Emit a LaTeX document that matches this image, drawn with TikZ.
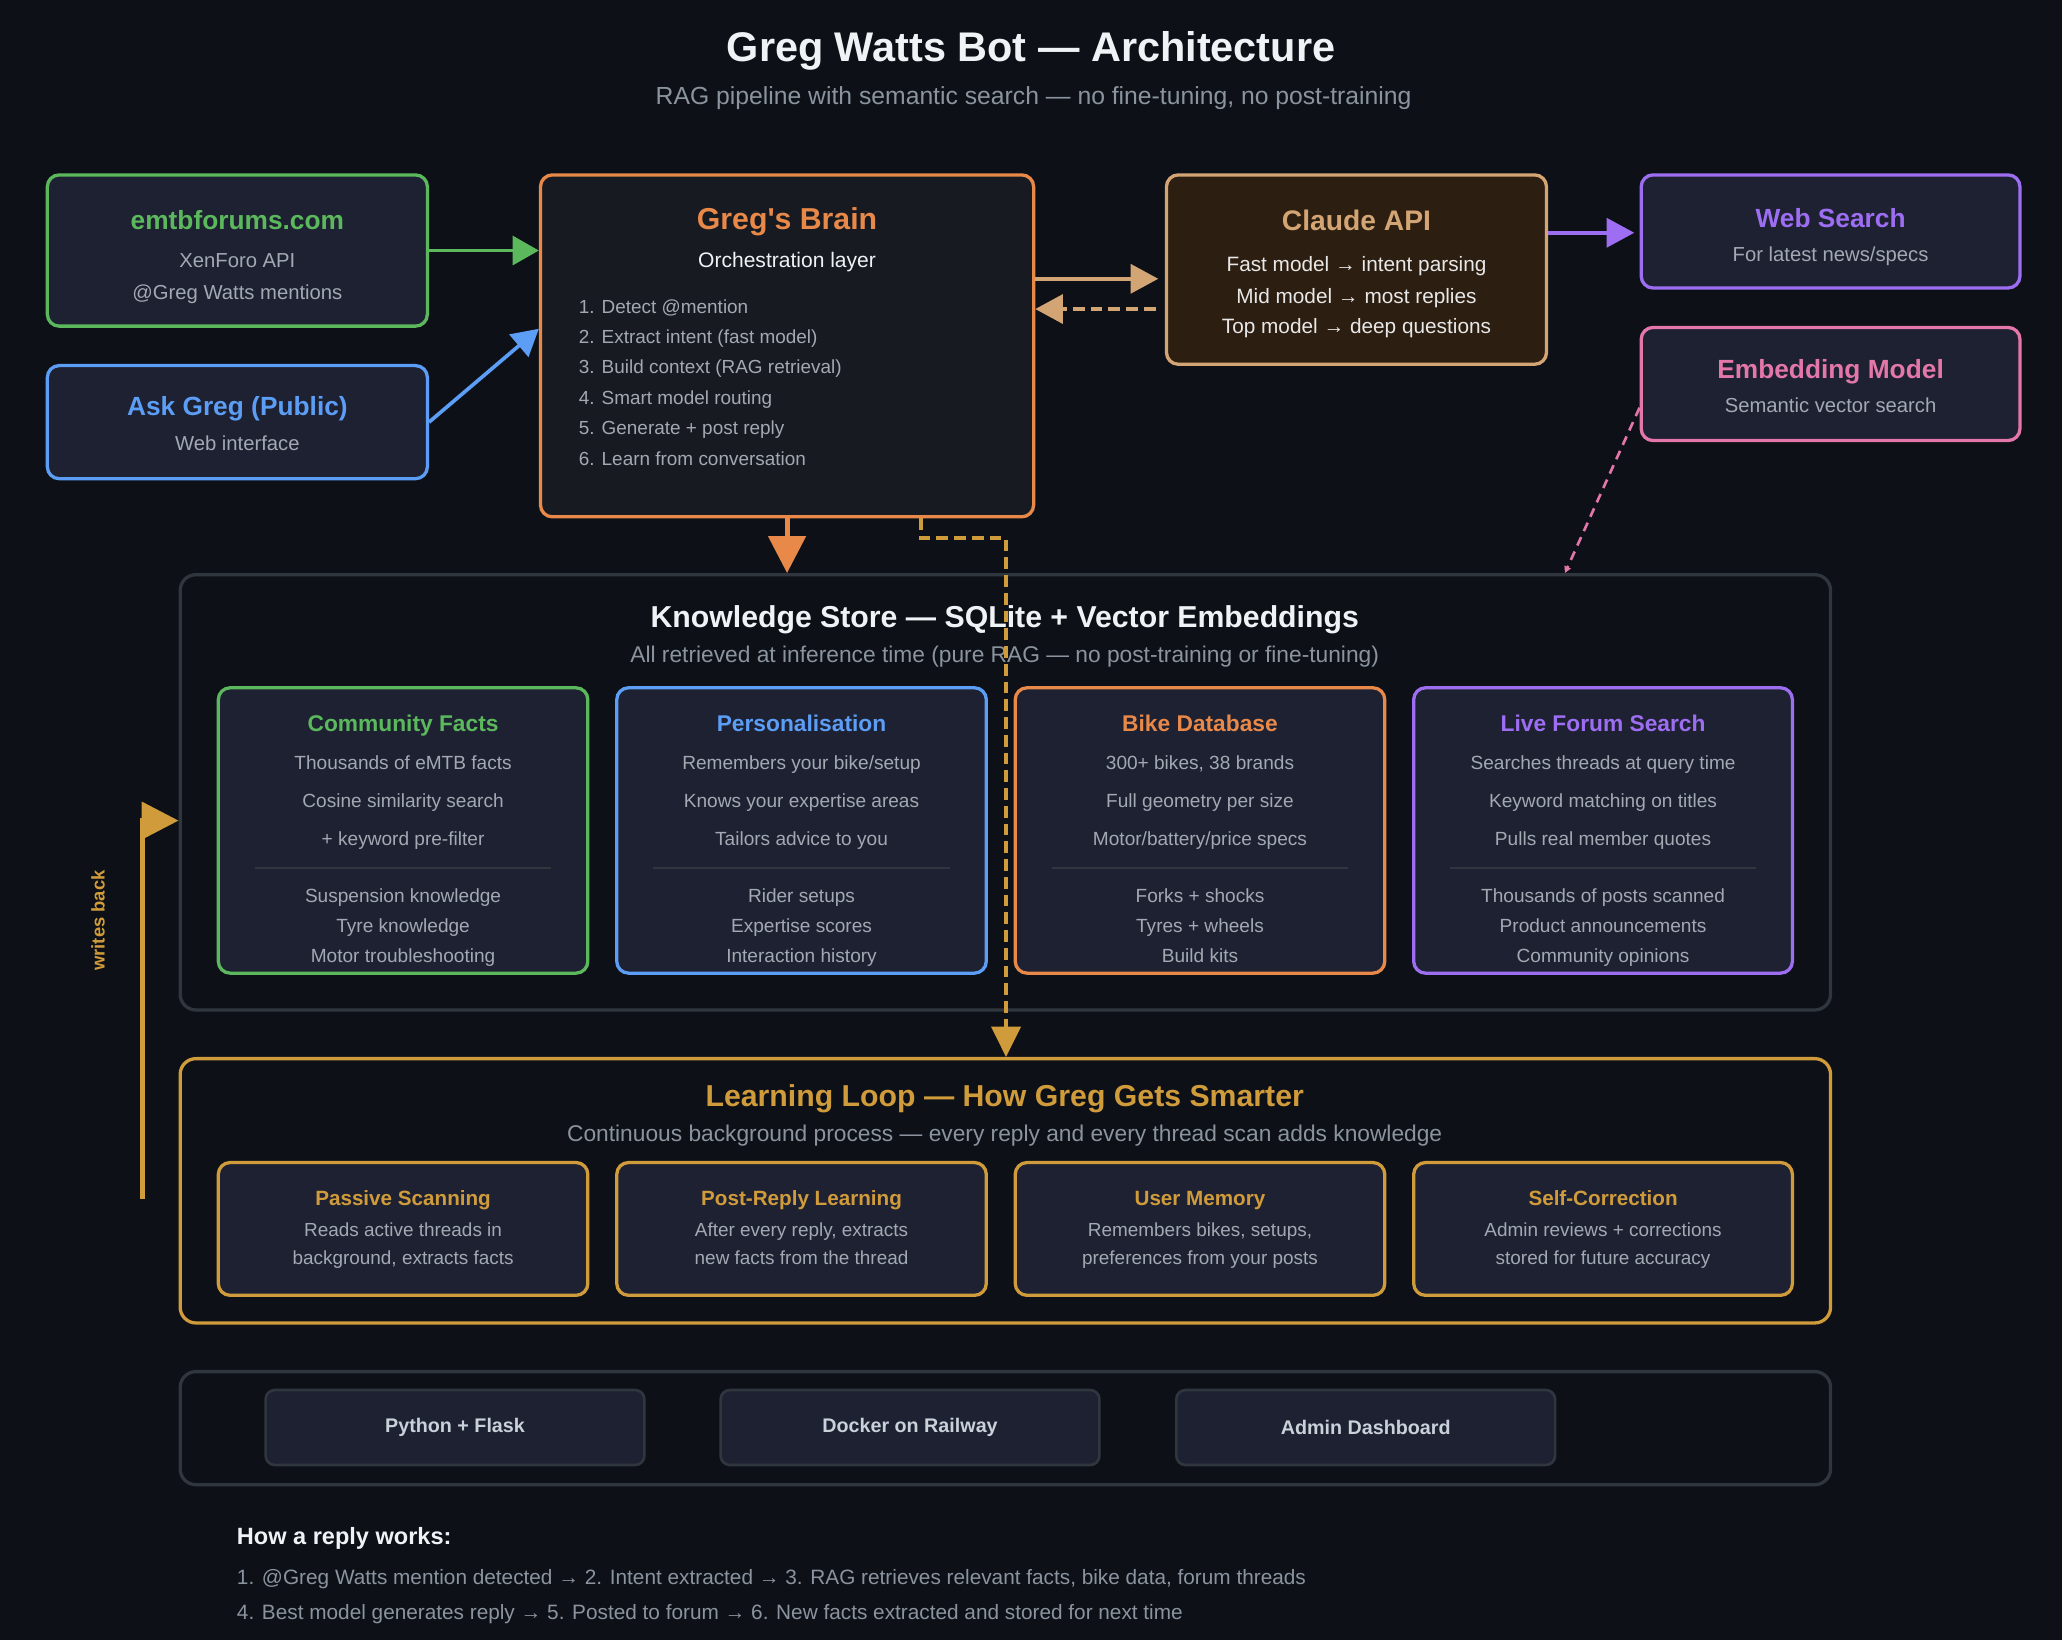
\documentclass[tikz,border=0pt]{standalone}
\usepackage{fontspec}
\setmainfont{Liberation Sans}[Ligatures=TeXOff]
\usetikzlibrary{arrows.meta,calc}
\definecolor{bg}{HTML}{0D1117}
\definecolor{boxfill}{HTML}{1D2132}
\definecolor{brainfill}{HTML}{171B21}
\definecolor{claudefill}{HTML}{2C1E10}
\definecolor{cgreen}{HTML}{5CB85C}
\definecolor{cblue}{HTML}{5C9DF5}
\definecolor{corange}{HTML}{E8894A}
\definecolor{ctan}{HTML}{D4A574}
\definecolor{cpurple}{HTML}{9D6EF2}
\definecolor{cpink}{HTML}{E477AA}
\definecolor{cgold}{HTML}{D09B3A}
\definecolor{cborder}{HTML}{30363D}
\definecolor{ctitle}{HTML}{F0F3F6}
\definecolor{csub}{HTML}{8B949E}
\definecolor{ctext}{HTML}{A3A9B3}
\definecolor{clight}{HTML}{E8E8E8}
\definecolor{ctech}{HTML}{C9D1D9}
\newcommand\gwf[1]{\fontsize{#1}{#1}\selectfont}
\begin{document}
\begin{tikzpicture}[x=1pt,y=-1pt,
  box/.style={draw, line width=2.5pt, rounded corners=9pt, fill=boxfill, inner sep=0pt},
  container/.style={draw=cborder, line width=2.5pt, rounded corners=12pt, fill=bg, inner sep=0pt},
  txt/.style={inner sep=0pt, anchor=mid, font=\gwf{#1}, yshift={-0.25*#1*1pt}},
  btxt/.style={inner sep=0pt, anchor=mid, font=\bfseries\gwf{#1}, yshift={-0.25*#1*1pt}},
  ltxt/.style={inner sep=0pt, anchor=mid west, font=\gwf{#1}, yshift={-0.25*#1*1pt}},
  btitle/.style={btxt=20},
  bsub/.style={txt=15.4, text=ctext},
  ctitle/.style={btxt=17.3},
  cline/.style={txt=14.5, text=ctext},
  ltitle/.style={btxt=15.7, text=cgold},
  lline/.style={txt=14.4, text=ctext},
  blist/.style={ltxt=14.4, text=ctext},
  sep/.style={draw=cborder, line width=1.5pt},
  tech/.style={draw=cborder, line width=2pt, rounded corners=7pt, fill=boxfill, inner sep=0pt, minimum width=288pt, minimum height=57pt, font=\bfseries\gwf{15}, text=ctech},
  conn/.style={line width=2.8pt},
  tipA/.style={-{Triangle[length=21pt,width=22pt]}},
  tipB/.style={-{Triangle[length=28pt,width=28pt]}},
  dsh/.style={dash pattern=on 9pt off 4.5pt}
]
\fill[bg] (0,0) rectangle (1568,1247);
\useasboundingbox (0,0) rectangle (1568,1247);

% title
\node[btxt=31.5, text=ctitle] (title) at (784,36) {Greg Watts Bot — Architecture};
\node[txt=18.8, text=csub] (subtitle) at (786,72) {RAG pipeline with semantic search — no fine-tuning, no post-training};

% top boxes
\node[box, draw=cgreen, minimum width=289pt, minimum height=115pt] (emtb) at (180.5,190.5) {};
\node[btitle, text=cgreen] (emtbT) at (180.5,167) {emtbforums.com};
\node[bsub] (emtbA) at (180.5,197) {XenForo API};
\node[bsub] (emtbB) at (180.5,221) {@Greg Watts mentions};

\node[box, draw=cblue, minimum width=289pt, minimum height=86pt] (ask) at (180.5,321) {};
\node[btitle, text=cblue] (askT) at (180.5,308) {Ask Greg (Public)};
\node[bsub] (askA) at (180.5,336) {Web interface};

\node[box, draw=corange, fill=brainfill, minimum width=375pt, minimum height=260pt] (brain) at (598.5,263) {};
\node[btxt=23, text=corange] (brainT) at (598.5,166) {Greg's Brain};
\node[txt=16, text=ctitle] (brainS) at (598.5,197) {Orchestration layer};
\node[blist] (b1) at (440,232) {1. Detect @mention};
\node[blist] (b2) at (440,255) {2. Extract intent (fast model)};
\node[blist] (b3) at (440,278) {3. Build context (RAG retrieval)};
\node[blist] (b4) at (440,301) {4. Smart model routing};
\node[blist] (b5) at (440,324) {5. Generate + post reply};
\node[blist] (b6) at (440,348) {6. Learn from conversation};

\node[box, draw=ctan, fill=claudefill, minimum width=289pt, minimum height=144pt] (claude) at (1031.5,205) {};
\node[btxt=21.5, text=ctan] (claudeT) at (1031.5,167) {Claude API};
\node[txt=15.8, text=clight] (cl1) at (1031.5,200) {Fast model → intent parsing};
\node[txt=15.8, text=clight] (cl2) at (1031.5,224) {Mid model → most replies};
\node[txt=15.8, text=clight] (cl3) at (1031.5,247) {Top model → deep questions};

\node[box, draw=cpurple, minimum width=288pt, minimum height=86pt] (web) at (1392,176) {};
\node[btitle, text=cpurple] (webT) at (1392,165) {Web Search};
\node[bsub] (webA) at (1392,192) {For latest news/specs};

\node[box, draw=cpink, minimum width=288pt, minimum height=86pt] (embed) at (1392,292) {};
\node[btitle, text=cpink] (embedT) at (1392,280) {Embedding Model};
\node[bsub] (embedA) at (1392,307) {Semantic vector search};

% knowledge store
\node[container, minimum width=1255pt, minimum height=331pt] (ks) at (764.5,602.5) {};
\node[btxt=23, text=ctitle] (ksT) at (764,469) {Knowledge Store — SQLite + Vector Embeddings};
\node[txt=17.3, text=csub] (ksS) at (764,497) {All retrieved at inference time (pure RAG — no post-training or fine-tuning)};

\node[box, draw=cgreen, minimum width=281pt, minimum height=217pt] (k1) at (306.5,631.5) {};
\node[ctitle, text=cgreen] (k1T) at (306.5,549) {Community Facts};
\node[cline] (k1a) at (306.5,579) {Thousands of eMTB facts};
\node[cline] (k1b) at (306.5,608) {Cosine similarity search};
\node[cline] (k1c) at (306.5,637) {+ keyword pre-filter};
\draw[sep] ($(k1.west |- 0,660)+(29,0)$) -- ($(k1.east |- 0,660)+(-29,0)$);
\node[cline] (k1d) at (306.5,680) {Suspension knowledge};
\node[cline] (k1e) at (306.5,703) {Tyre knowledge};
\node[cline] (k1f) at (306.5,726) {Motor troubleshooting};

\node[box, draw=cblue, minimum width=281pt, minimum height=217pt] (k2) at (609.5,631.5) {};
\node[ctitle, text=cblue] (k2T) at (609.5,549) {Personalisation};
\node[cline] (k2a) at (609.5,579) {Remembers your bike/setup};
\node[cline] (k2b) at (609.5,608) {Knows your expertise areas};
\node[cline] (k2c) at (609.5,637) {Tailors advice to you};
\draw[sep] ($(k2.west |- 0,660)+(29,0)$) -- ($(k2.east |- 0,660)+(-29,0)$);
\node[cline] (k2d) at (609.5,680) {Rider setups};
\node[cline] (k2e) at (609.5,703) {Expertise scores};
\node[cline] (k2f) at (609.5,726) {Interaction history};

\node[box, draw=corange, minimum width=281pt, minimum height=217pt] (k3) at (912.5,631.5) {};
\node[ctitle, text=corange] (k3T) at (912.5,549) {Bike Database};
\node[cline] (k3a) at (912.5,579) {300+ bikes, 38 brands};
\node[cline] (k3b) at (912.5,608) {Full geometry per size};
\node[cline] (k3c) at (912.5,637) {Motor/battery/price specs};
\draw[sep] ($(k3.west |- 0,660)+(29,0)$) -- ($(k3.east |- 0,660)+(-29,0)$);
\node[cline] (k3d) at (912.5,680) {Forks + shocks};
\node[cline] (k3e) at (912.5,703) {Tyres + wheels};
\node[cline] (k3f) at (912.5,726) {Build kits};

\node[box, draw=cpurple, minimum width=288pt, minimum height=217pt] (k4) at (1219,631.5) {};
\node[ctitle, text=cpurple] (k4T) at (1219,549) {Live Forum Search};
\node[cline] (k4a) at (1219,579) {Searches threads at query time};
\node[cline] (k4b) at (1219,608) {Keyword matching on titles};
\node[cline] (k4c) at (1219,637) {Pulls real member quotes};
\draw[sep] ($(k4.west |- 0,660)+(29,0)$) -- ($(k4.east |- 0,660)+(-29,0)$);
\node[cline] (k4d) at (1219,680) {Thousands of posts scanned};
\node[cline] (k4e) at (1219,703) {Product announcements};
\node[cline] (k4f) at (1219,726) {Community opinions};

% learning loop
\node[container, draw=cgold, minimum width=1255pt, minimum height=201pt] (ll) at (764.5,905.5) {};
\node[btxt=23, text=cgold] (llT) at (764,833) {Learning Loop — How Greg Gets Smarter};
\node[txt=17.3, text=csub] (llS) at (764,861) {Continuous background process — every reply and every thread scan adds knowledge};

\node[box, draw=cgold, minimum width=281pt, minimum height=101pt] (l1) at (306.5,934.5) {};
\node[ltitle] (l1T) at (306.5,910) {Passive Scanning};
\node[lline] (l1a) at (306.5,934) {Reads active threads in};
\node[lline] (l1b) at (306.5,955) {background, extracts facts};

\node[box, draw=cgold, minimum width=281pt, minimum height=101pt] (l2) at (609.5,934.5) {};
\node[ltitle] (l2T) at (609.5,910) {Post-Reply Learning};
\node[lline] (l2a) at (609.5,934) {After every reply, extracts};
\node[lline] (l2b) at (609.5,955) {new facts from the thread};

\node[box, draw=cgold, minimum width=281pt, minimum height=101pt] (l3) at (912.5,934.5) {};
\node[ltitle] (l3T) at (912.5,910) {User Memory};
\node[lline] (l3a) at (912.5,934) {Remembers bikes, setups,};
\node[lline] (l3b) at (912.5,955) {preferences from your posts};

\node[box, draw=cgold, minimum width=288pt, minimum height=101pt] (l4) at (1219,934.5) {};
\node[ltitle] (l4T) at (1219,910) {Self-Correction};
\node[lline] (l4a) at (1219,934) {Admin reviews + corrections};
\node[lline] (l4b) at (1219,955) {stored for future accuracy};

% tech stack
\node[container, minimum width=1255pt, minimum height=86pt] (bot) at (764.5,1086) {};
\node[tech] (py) at (346,1085.5) {Python + Flask};
\node[tech] (dock) at (692,1085.5) {Docker on Railway};
\node[tech] (adm) at (1038.5,1085.5) {Admin Dashboard};

% how a reply works
\node[inner sep=0pt, anchor=mid west, font=\bfseries\gwf{17.9}, yshift=-4.5pt, text=ctitle] (how) at (180,1167) {How a reply works:};
\node[ltxt=15.8, text=csub] (how1) at (180,1198) {1. @Greg Watts mention detected → 2. Intent extracted → 3. RAG retrieves relevant facts, bike data, forum threads};
\node[ltxt=15.8, text=csub] (how2) at (180,1225) {4. Best model generates reply → 5. Posted to forum → 6. New facts extracted and stored for next time};

% connectors
\draw[conn, cgreen, -{Triangle[length=20pt,width=22pt]}] (emtb.east) -- (emtb.east -| brain.west);
\draw[conn, cblue, -{Triangle[length=20pt,width=22pt]}] (ask.east) -- (brain.west |- 0,250);
\draw[conn, ctan, tipA, shorten >=5pt] (brain.east |- 0,212) -- (claude.west |- 0,212);
\draw[conn, ctan, tipA, dsh, shorten <=7pt] (claude.west |- 0,235) -- (brain.east |- 0,235);
\draw[conn, cpurple, tipA, shorten >=4pt] (claude.east |- 0,177) -- (web.west |- 0,177);
\draw[line width=2pt, cpink, dash pattern=on 7pt off 5pt, -{Triangle[length=5pt,width=5pt]}] (embed.west |- 0,310) -- (ks.north -| 1190,0);
\draw[line width=3.8pt, corange, tipB] (brain.south |- 0,392) -- (brain.south |- ks.north);
\draw[line width=3pt, cgold, dsh, -{Triangle[length=23pt,width=22pt]}] (brain.south -| 700,0) -- ++(0,15) -| (ll.north -| 765,0);
\coordinate (wbstart) at (108,912);
\draw[line width=3.8pt, cgold, tipB] (wbstart) |- (ks.west |- 0,624);
\node[inner sep=0pt, anchor=mid, rotate=90, font=\bfseries\gwf{14}, text=cgold] (wb) at (77,700) {writes back};
\end{tikzpicture}
\end{document}
